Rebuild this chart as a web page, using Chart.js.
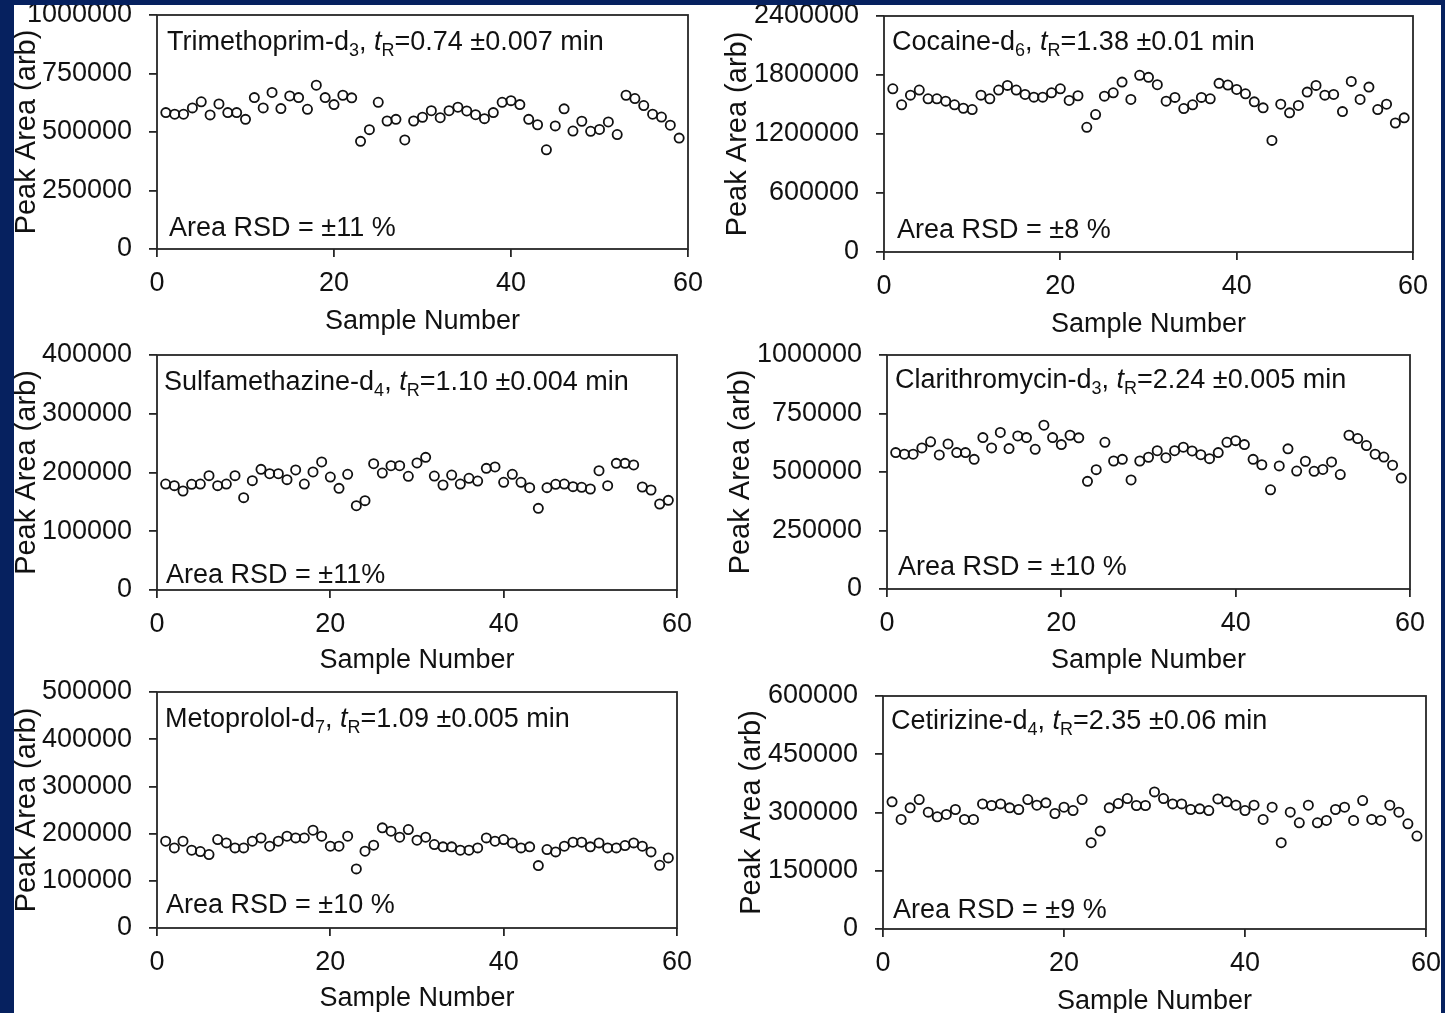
<!DOCTYPE html>
<html><head><meta charset="utf-8">
<script src="https://cdn.jsdelivr.net/npm/chart.js@4/dist/chart.umd.min.js"></script>
<style>
html,body{margin:0;padding:0;background:#fff;width:1445px;height:1013px;overflow:hidden;position:relative}
canvas{position:absolute}
.navy{position:absolute;background:#06215f;z-index:10}
</style></head><body>
<div class="navy" style="left:0;top:0;width:1445px;height:5px"></div>
<div class="navy" style="left:0;top:0;width:14px;height:1013px"></div>
<div class="navy" style="left:1441px;top:0;width:4px;height:1013px"></div>
<script>
const sampleNumbers = [1,2,3,4,5,6,7,8,9,10,11,12,13,14,15,16,17,18,19,20,21,22,23,24,25,26,27,28,29,30,31,32,33,34,35,36,37,38,39,40,41,42,43,44,45,46,47,48,49,50,51,52,53,54,55,56,57,58,59];

const trimethoprim = [583000,576000,576000,603000,629000,573000,620000,583000,583000,554000,647000,603000,669000,600000,654000,647000,597000,700000,647000,617000,657000,646000,460000,510000,627000,547000,554000,466000,547000,563000,591000,561000,591000,606000,590000,574000,557000,583000,627000,634000,617000,554000,531000,424000,526000,599000,504000,546000,503000,511000,543000,489000,657000,643000,613000,576000,564000,529000,474000];
const cocaine = [1660000,1497000,1595000,1647000,1558000,1558000,1534000,1497000,1462000,1449000,1595000,1558000,1647000,1694000,1647000,1602000,1575000,1575000,1619000,1660000,1541000,1589000,1268000,1398000,1585000,1619000,1728000,1551000,1797000,1776000,1701000,1534000,1572000,1459000,1497000,1572000,1558000,1715000,1698000,1653000,1609000,1527000,1466000,1135000,1503000,1415000,1490000,1626000,1694000,1595000,1602000,1428000,1735000,1551000,1677000,1449000,1503000,1312000,1364000];
const sulfamethazine = [180400,177600,168500,179900,180400,194600,177600,180400,194600,157200,186100,205400,198000,198000,187800,204300,180400,200900,217900,192300,173000,196900,143500,152100,215000,199100,211600,211600,193500,216200,225800,194000,178700,195700,180400,190100,185500,207100,209400,183300,196900,183300,174200,139000,174200,179900,180400,175900,174800,171900,203100,177600,215600,215600,212800,175300,170200,146400,152600];
const clarithromycin = [583000,576000,576000,603000,629000,573000,620000,583000,583000,554000,647000,603000,669000,600000,654000,647000,597000,700000,647000,617000,657000,646000,460000,510000,627000,547000,554000,466000,547000,563000,591000,561000,591000,606000,590000,574000,557000,583000,627000,634000,617000,554000,531000,424000,526000,599000,504000,546000,503000,511000,543000,489000,657000,643000,613000,576000,564000,529000,474000];
const metoprolol = [183900,169700,183900,164800,162000,155600,187400,180300,169700,169700,183900,190900,173300,183900,194500,190900,190900,207200,194500,173300,173300,194500,125200,162700,175400,212200,205100,192400,208600,186000,192400,176800,171900,171900,164800,164800,169700,190900,183900,187400,180300,169700,171900,132200,166200,161200,173300,181800,181800,171900,180300,169700,169700,174700,180300,173300,161200,132900,148500];
const cetirizine = [327400,282100,312000,333300,300900,288900,294900,307700,282100,282100,322200,318000,322200,312000,307700,333300,318800,324800,297400,313700,305100,333300,222200,252100,312000,323100,335900,318000,318000,353000,335900,322200,322200,307700,309400,305100,335000,327400,318800,305100,318800,282100,313700,222200,300900,273500,318800,273500,279500,307700,313700,279500,330800,282100,279500,318800,300900,270900,239300];

const xTickValues = [0,20,40,60];
const trimethoprimTicks = [0,250000,500000,750000,1000000];
const cocaineTicks = [0,600000,1200000,1800000,2400000];
const sulfamethazineTicks = [0,100000,200000,300000,400000];
const clarithromycinTicks = [0,250000,500000,750000,1000000];
const metoprololTicks = [0,100000,200000,300000,400000,500000];
const cetirizineTicks = [0,150000,300000,450000,600000];

const xTitle = 'Sample Number';
const yTitle = 'Peak Area (arb)';

// label text runs: [text, style]
const trimethoprimLabel = [['Trimethoprim-d','n'],['3','sub'],[', ','n'],['t','it'],['R','sub'],['=0.74 \u00b10.007 min','n']];
const cocaineLabel = [['Cocaine-d','n'],['6','sub'],[', ','n'],['t','it'],['R','sub'],['=1.38 \u00b10.01 min','n']];
const sulfamethazineLabel = [['Sulfamethazine-d','n'],['4','sub'],[', ','n'],['t','it'],['R','sub'],['=1.10 \u00b10.004 min','n']];
const clarithromycinLabel = [['Clarithromycin-d','n'],['3','sub'],[', ','n'],['t','it'],['R','sub'],['=2.24 \u00b10.005 min','n']];
const metoprololLabel = [['Metoprolol-d','n'],['7','sub'],[', ','n'],['t','it'],['R','sub'],['=1.09 \u00b10.005 min','n']];
const cetirizineLabel = [['Cetirizine-d','n'],['4','sub'],[', ','n'],['t','it'],['R','sub'],['=2.35 \u00b10.06 min','n']];
const rsdLabels = ['Area RSD = \u00b111 %','Area RSD = \u00b18 %','Area RSD = \u00b111%','Area RSD = \u00b110 %','Area RSD = \u00b110 %','Area RSD = \u00b19 %'];

const FAM = '"Liberation Sans", Arial, Helvetica, sans-serif';
const INK = '#111';
const LINE = '#262626';
const TICK_FONT = 27, TEXT_FONT = 27, SUB_FONT = 18, YTITLE_FONT = 29;

// layout (positions only)
const panels = [
  {values: trimethoprim, ticks: trimethoprimTicks, label: trimethoprimLabel, rsd: rsdLabels[0],
   x0:157, x1:688, yT:15, yB:249, yTitleC:27, xTitleC:320, nDx:10, nDy:35, rDx:12, rDy:-13},
  {values: cocaine, ticks: cocaineTicks, label: cocaineLabel, rsd: rsdLabels[1],
   x0:884, x1:1413, yT:16, yB:252, yTitleC:738, xTitleC:323, nDx:8, nDy:34, rDx:13, rDy:-14},
  {values: sulfamethazine, ticks: sulfamethazineTicks, label: sulfamethazineLabel, rsd: rsdLabels[2],
   x0:157, x1:677, yT:355, yB:590, yTitleC:27, xTitleC:659, nDx:7, nDy:35, rDx:9, rDy:-7},
  {values: clarithromycin, ticks: clarithromycinTicks, label: clarithromycinLabel, rsd: rsdLabels[3],
   x0:887, x1:1410, yT:355, yB:589, yTitleC:741, xTitleC:659, nDx:8, nDy:33, rDx:11, rDy:-14},
  {values: metoprolol, ticks: metoprololTicks, label: metoprololLabel, rsd: rsdLabels[4],
   x0:157, x1:677, yT:692, yB:928, yTitleC:27, xTitleC:997, nDx:8, nDy:35, rDx:9, rDy:-15},
  {values: cetirizine, ticks: cetirizineTicks, label: cetirizineLabel, rsd: rsdLabels[5],
   x0:883, x1:1426, yT:696, yB:929, yTitleC:752, xTitleC:1000, nDx:8, nDy:33, rDx:10, rDy:-11}
];

function drawRuns(ctx, runs, x, y) {
  for (const [txt, st] of runs) {
    let dy = 0;
    if (st === 'sub') { ctx.font = SUB_FONT + 'px ' + FAM; dy = 6; }
    else if (st === 'it') { ctx.font = 'italic ' + TEXT_FONT + 'px ' + FAM; }
    else { ctx.font = TEXT_FONT + 'px ' + FAM; }
    ctx.fillText(txt, x, y + dy);
    x += ctx.measureText(txt).width;
  }
}

const panelPlugin = {
  id: 'panelText',
  afterDatasetsDraw(chart, args, opts) {
    const {ctx, chartArea: a} = chart;
    ctx.save();
    ctx.strokeStyle = LINE; ctx.lineWidth = 1.8;
    ctx.strokeRect(a.left, a.top, a.right - a.left, a.bottom - a.top);
    ctx.fillStyle = INK; ctx.textBaseline = 'alphabetic'; ctx.textAlign = 'left';
    drawRuns(ctx, opts.label, a.left + opts.nDx, a.top + opts.nDy);
    drawRuns(ctx, [[opts.rsd, 'n']], a.left + opts.rDx, a.bottom + opts.rDy);
    ctx.restore();
  }
};

const PT = 36, PR = 30, YPAD = 17;
panels.forEach(p => {
  const yLH = YTITLE_FONT * 1.2;
  const canvasLeft = p.yTitleC - 19;
  const YW = p.x0 - canvasLeft;
  const XH = Math.round(p.xTitleC - p.yB + 17.6);
  const W = YW + (p.x1 - p.x0) + PR;
  const H = PT + (p.yB - p.yT) + XH;
  const cv = document.createElement('canvas');
  cv.width = W; cv.height = H;
  cv.style.left = canvasLeft + 'px'; cv.style.top = (p.yT - PT) + 'px';
  cv.style.width = W + 'px'; cv.style.height = H + 'px';
  document.body.appendChild(cv);
  const pts = sampleNumbers.map((s, i) => ({x: s, y: p.values[i]}));
  new Chart(cv, {
    type: 'scatter',
    data: {datasets: [{data: pts, pointStyle: 'circle', pointRadius: 4.6, pointHoverRadius: 4.6,
      borderColor: INK, borderWidth: 1.8, backgroundColor: 'rgba(0,0,0,0)'}]},
    options: {
      responsive: false, animation: false, devicePixelRatio: 1,
      layout: {padding: {top: PT, right: PR, left: 0, bottom: 0}},
      plugins: {legend: {display: false}, tooltip: {enabled: false},
        panelText: {label: p.label, rsd: p.rsd, nDx: p.nDx, nDy: p.nDy, rDx: p.rDx, rDy: p.rDy}},
      scales: {
        x: {type: 'linear', min: 0, max: 60,
          afterBuildTicks: s => { s.ticks = xTickValues.map(v => ({value: v})); },
          afterFit: s => { s.height = XH; },
          ticks: {font: {size: TICK_FONT, family: FAM}, color: INK, padding: 10, maxRotation: 0, autoSkip: false,
            callback: v => String(v)},
          grid: {drawOnChartArea: false, drawTicks: true, tickLength: 8, color: LINE, lineWidth: 1.8},
          border: {display: false},
          title: {display: true, text: xTitle, font: {size: TICK_FONT, family: FAM}, color: INK, padding: {top: 0, bottom: 0}}},
        y: {type: 'linear', min: 0, max: p.ticks[p.ticks.length - 1],
          afterBuildTicks: s => { s.ticks = p.ticks.map(v => ({value: v})); },
          afterFit: s => { s.width = YW; },
          ticks: {font: {size: TICK_FONT, family: FAM}, color: INK, padding: YPAD, autoSkip: false,
            callback: v => String(v)},
          grid: {drawOnChartArea: false, drawTicks: true, tickLength: 8, color: LINE, lineWidth: 1.8},
          border: {display: false},
          title: {display: true, text: yTitle, font: {size: YTITLE_FONT, family: FAM}, color: INK,
            padding: {top: 19 - yLH / 2, bottom: 0}}}
      }
    },
    plugins: [panelPlugin]
  });
});
</script>
</body></html>
